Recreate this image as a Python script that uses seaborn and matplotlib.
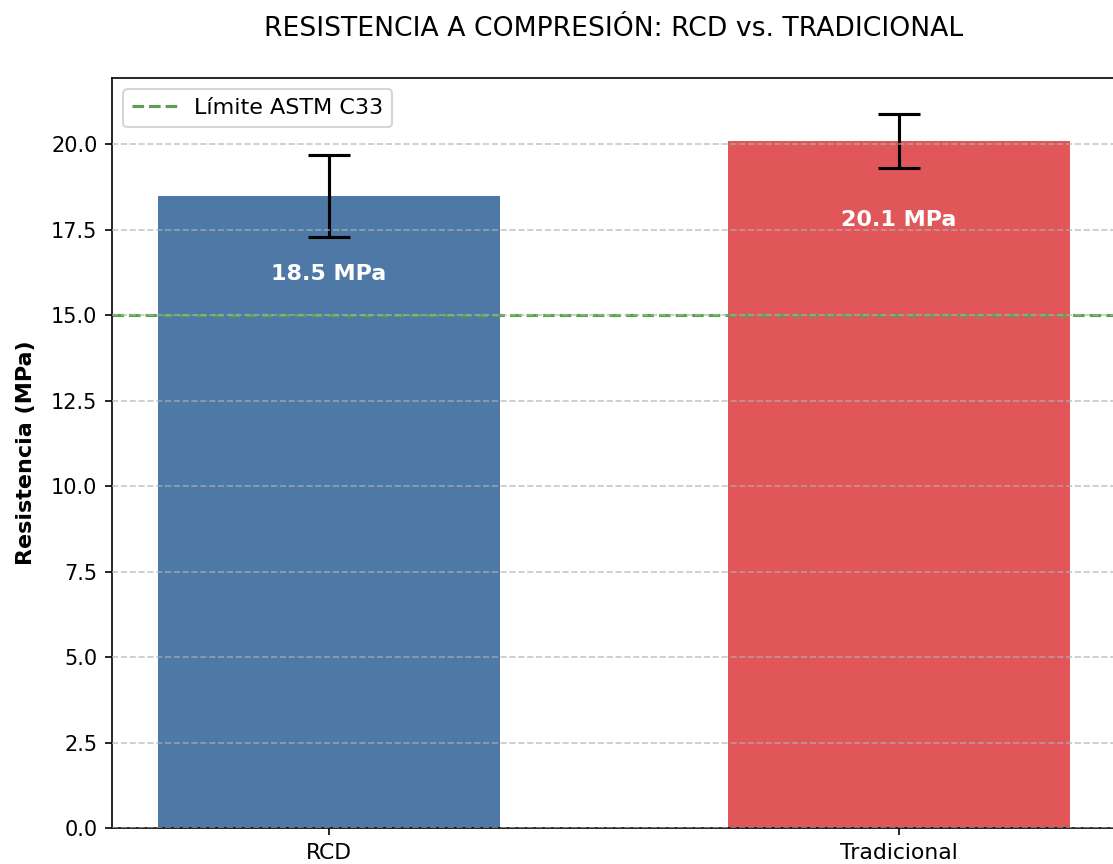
import seaborn as sns
import matplotlib.pyplot as plt
import pandas as pd

# Data
materiales = ['RCD', 'Tradicional']
resistencia = [18.5, 20.1]
desviacion = [1.2, 0.8]
colores = ['#4e79a7', '#e15759']
limite_astm = 15.0

df = pd.DataFrame({'material': materiales, 'resistencia': resistencia})

fig = plt.figure(figsize=(1113 / 150, 864 / 150), dpi=150)
ax = fig.add_axes([0.1006, 0.0417, 0.902, 0.868])

bar_width = 0.6
sns.barplot(data=df, x='material', y='resistencia', hue='material',
            palette=colores, width=bar_width, legend=False, ax=ax,
            saturation=1, errorbar=None)

ax.errorbar(materiales, resistencia, yerr=desviacion, fmt='none',
            ecolor='black', elinewidth=1.5, capsize=10, capthick=1.5)

ax.axhline(limite_astm, color='#59a14f', linestyle='--', linewidth=1.5,
           label='Límite ASTM C33')

for i, val in enumerate(resistencia):
    ax.text(i, val - 2.3, f'{val} MPa', ha='center', va='center',
            color='white', fontweight='bold', fontsize=10.7)

# matplotlib default margins on the categorical axis
pad = 0.05 * (len(materiales) - 1 + bar_width)
ax.set_xlim(-bar_width / 2 - pad, len(materiales) - 1 + bar_width / 2 + pad)
ax.set_ylim(0, 1.05 * max(r + d for r, d in zip(resistencia, desviacion)))

ax.set_title('RESISTENCIA A COMPRESIÓN: RCD vs. TRADICIONAL', fontsize=12.8, pad=20)
ax.set_ylabel('Resistencia (MPa)', fontweight='bold', fontsize=10.7, labelpad=7)
ax.set_xlabel('')
ax.tick_params(axis='x', labelsize=10.5)
ax.grid(axis='y', linestyle='--', alpha=0.7)
ax.set_axisbelow(False)
ax.legend(loc='upper left', fontsize=10.7)

fig.savefig('out.png', dpi=150)
